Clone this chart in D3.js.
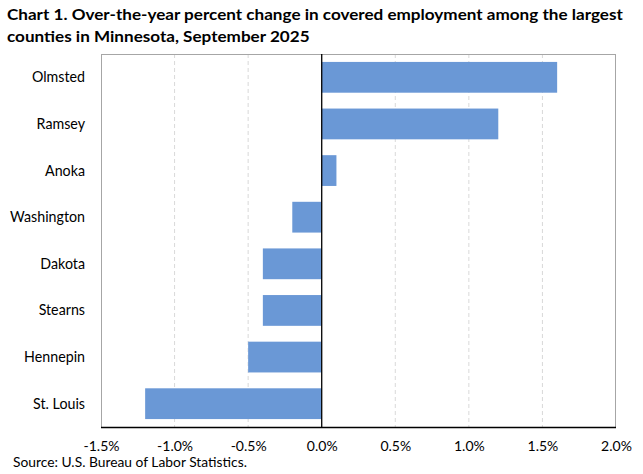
<!DOCTYPE html>
<html><head><meta charset="utf-8">
<script src="https://cdn.jsdelivr.net/npm/d3@7"></script>
<style>body{margin:0;background:#fff;} svg{display:block;}</style>
</head><body>
<svg id="c" width="643" height="474"></svg>
<script>
const titleLines = ["Chart 1. Over-the-year percent change in covered employment among the largest",
                    "counties in Minnesota, September 2025"];
const counties = ["Olmsted","Ramsey","Anoka","Washington","Dakota","Stearns","Hennepin","St. Louis"];
const changes = [1.6, 1.2, 0.1, -0.2, -0.4, -0.4, -0.5, -1.2];
const xTicks = [-1.5, -1.0, -0.5, 0.0, 0.5, 1.0, 1.5, 2.0];
const sourceText = "Source: U.S. Bureau of Labor Statistics.";

const svg = d3.select("#c");
const font = "Lato, 'Open Sans', sans-serif";
const m = {left:101, right:616, top:54, bottom:427};
const x = d3.scaleLinear().domain([-1.5, 2.0]).range([m.left, m.right]);
const y = d3.scaleBand().domain(counties).range([m.top, m.bottom]).paddingInner(0.34).paddingOuter(0.17);

// horizontal squeeze factor so that a reference string reaches a target width at given size
function squeeze(ref, size, weight, width){
  const t = svg.append("text").attr("font-family", font).attr("font-size", size)
    .attr("font-weight", weight).text(ref);
  const w = t.node().getComputedTextLength(); t.remove();
  return width / w;
}
function place(sel, px, py, sx){
  sel.attr("x", 0).attr("y", 0).attr("transform", (d,i) => `translate(${px(d,i)},${py(d,i)}) scale(${sx},1)`);
}

// gridlines
svg.append("g").selectAll("line").data(xTicks.filter(d => d !== 0 && d !== -1.5 && d !== 2.0)).join("line")
  .attr("x1", d => x(d)).attr("x2", d => x(d)).attr("y1", m.top).attr("y2", m.bottom)
  .attr("stroke", "#d9d9d9").attr("stroke-width", 1).attr("stroke-dasharray", "4,3");

// frame
svg.append("rect").attr("x", m.left+0.5).attr("y", m.top+0.5)
  .attr("width", m.right-m.left-1).attr("height", m.bottom-m.top)
  .attr("fill", "none").attr("stroke", "#a6a6a6").attr("stroke-width", 1);

// bars
svg.append("g").selectAll("rect").data(counties).join("rect")
  .attr("x", (d,i) => x(Math.min(0, changes[i])))
  .attr("width", (d,i) => Math.abs(x(changes[i]) - x(0)))
  .attr("y", d => y(d)).attr("height", y.bandwidth())
  .attr("fill", "#6a98d6");

// zero line
svg.append("line").attr("x1", x(0)).attr("x2", x(0)).attr("y1", m.top).attr("y2", m.bottom)
  .attr("stroke", "#000").attr("stroke-width", 1.3);

// x axis
const fmt = d => (d < 0 ? "-" : "") + d3.format(".1f")(Math.abs(d)) + "%";
const xa = svg.append("g").attr("transform", `translate(0,${m.bottom})`)
  .call(d3.axisBottom(x).tickValues(xTicks).tickSize(0).tickPadding(0).tickFormat(fmt));
xa.select(".domain").attr("stroke", "#000").attr("stroke-width", 1.3).attr("d", `M${m.left},0.5H${m.right}`);
const tickSize = 14;
const sxT = squeeze("-1.5%", tickSize, "normal", 36);
xa.selectAll(".tick text").attr("font-family", font).attr("font-size", tickSize).attr("fill", "#000")
  .attr("dy", 0).attr("text-anchor", "middle")
  .attr("transform", `scale(${sxT},1)`).attr("x", 0).attr("y", 24.5);

// y labels
const labSize = 15.5;
const sxL = squeeze("Washington", labSize, "normal", 75);
const yl = svg.append("g").attr("font-family", font).attr("font-size", labSize).attr("text-anchor", "end");
yl.selectAll("text").data(counties).join("text").attr("fill", "#000").text(d => d)
  .call(place, () => 85, d => y(d) + y.bandwidth()/2 + 5, sxL);

// title
const titleSize = 15;
const sxTi = squeeze(titleLines[0], titleSize, "bold", 616);
const tg = svg.append("g").attr("font-family", font).attr("font-weight", "bold").attr("font-size", titleSize);
tg.selectAll("text").data(titleLines).join("text").attr("fill", "#000").text(d => d)
  .call(place, () => 7, (d,i) => 20 + i*22, sxTi);

// source
const srcSize = 13.5;
const sxS = squeeze(sourceText, srcSize, "normal", 234);
svg.append("g").attr("font-family", font).attr("font-size", srcSize)
  .append("text").datum(sourceText).attr("fill", "#000").text(d => d)
  .call(place, () => 13, () => 467, sxS);
</script>
</body></html>
